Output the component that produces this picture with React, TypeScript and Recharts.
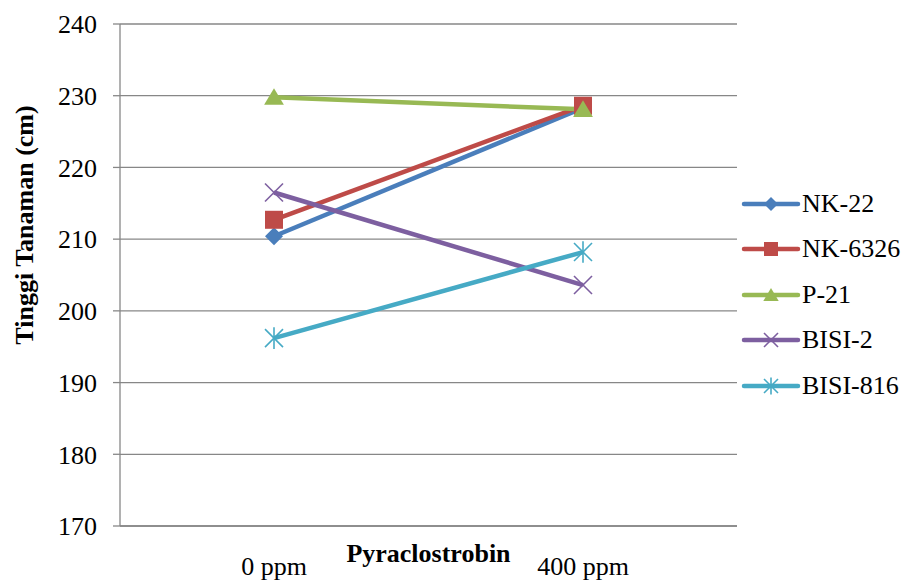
import React from "react";
import { LineChart, Line, XAxis, YAxis, CartesianGrid, Label } from "recharts";

const doses = ["0 ppm", "400 ppm"];
const nk22 = [210.4, 228.3];
const nk6326 = [212.7, 228.6];
const p21 = [229.8, 228.1];
const bisi2 = [216.5, 203.6];
const bisi816 = [196.2, 208.2];
const yTicks = [170, 180, 190, 200, 210, 220, 230, 240];

const series = [
  { key: "NK-22", values: nk22, color: "#4A7EBB", shape: "diamond" },
  { key: "NK-6326", values: nk6326, color: "#BE4B48", shape: "square" },
  { key: "P-21", values: p21, color: "#98B954", shape: "triangle" },
  { key: "BISI-2", values: bisi2, color: "#7D5FA0", shape: "x" },
  { key: "BISI-816", values: bisi816, color: "#46AAC5", shape: "star" },
];

const data = doses.map((d, i) => {
  const row: Record<string, string | number> = { dose: d };
  series.forEach((s) => {
    row[s.key] = s.values[i];
  });
  return row;
});

const FONT = "'Liberation Serif', 'Times New Roman', serif";
const FS = 26;

function Marker({ cx, cy, shape, color, r }: { cx: number; cy: number; shape: string; color: string; r: number }) {
  if (shape === "diamond") {
    return <polygon points={`${cx},${cy - r} ${cx + r},${cy} ${cx},${cy + r} ${cx - r},${cy}`} fill={color} />;
  }
  if (shape === "square") {
    return <rect x={cx - r} y={cy - r} width={r * 2} height={r * 2} fill={color} />;
  }
  if (shape === "triangle") {
    return <polygon points={`${cx},${cy - r} ${cx + r * 1.1},${cy + r * 0.85} ${cx - r * 1.1},${cy + r * 0.85}`} fill={color} />;
  }
  if (shape === "x") {
    return (
      <g stroke={color} strokeWidth={1.6}>
        <line x1={cx - r} y1={cy - r} x2={cx + r} y2={cy + r} />
        <line x1={cx - r} y1={cy + r} x2={cx + r} y2={cy - r} />
      </g>
    );
  }
  return (
    <g stroke={color} strokeWidth={1.6}>
      <line x1={cx - r} y1={cy - r} x2={cx + r} y2={cy + r} />
      <line x1={cx - r} y1={cy + r} x2={cx + r} y2={cy - r} />
      <line x1={cx} y1={cy - r * 1.2} x2={cx} y2={cy + r * 1.2} />
    </g>
  );
}

const XTick = (props: any) => {
  const { x, payload } = props;
  return (
    <text x={x} y={575} textAnchor="middle" fontFamily={FONT} fontSize={FS} fill="#000">
      {payload.value}
    </text>
  );
};

const YTitle = () => (
  <text
    x={0}
    y={0}
    transform="translate(33, 225) rotate(-90)"
    textAnchor="middle"
    fontFamily={FONT}
    fontSize={FS}
    fontWeight="bold"
    fill="#000"
  >
    Tinggi Tanaman (cm)
  </text>
);

export default function App() {
  return (
    <div style={{ position: "absolute", left: 0, top: 0, width: 904, height: 581, background: "#fff" }}>
      <LineChart width={904} height={581} data={data} margin={{ top: 24, right: 167, bottom: 0, left: 0 }}>
        <CartesianGrid vertical={false} stroke="#878787" strokeWidth={1.3} />
        <XAxis
          dataKey="dose"
          padding={{ left: 154, right: 154 }}
          height={55}
          tickLine={false}
          stroke="#878787"
          strokeWidth={1.3}
          tick={<XTick />}
          interval={0}
        >
          <Label
            value="Pyraclostrobin"
            position="insideBottom"
            offset={19}
            style={{ fontFamily: FONT, fontSize: FS, fontWeight: "bold", fill: "#000" }}
          />
        </XAxis>
        <YAxis
          domain={[170, 240]}
          ticks={yTicks}
          width={120}
          tickSize={7}
          tickMargin={16}
          stroke="#878787"
          strokeWidth={1.3}
          tick={{ fontFamily: FONT, fontSize: FS, fill: "#000" }}
        >
          <Label content={<YTitle />} />
        </YAxis>
        {series.map((s) => (
          <Line
            key={s.key}
            dataKey={s.key}
            stroke={s.color}
            strokeWidth={4.5}
            isAnimationActive={false}
            dot={(p: any) => (
              <Marker key={`${s.key}-${p.index}`} cx={p.cx} cy={p.cy} shape={s.shape} color={s.color} r={9} />
            )}
            activeDot={false}
          />
        ))}
      </LineChart>
      <div style={{ position: "absolute", left: 741, top: 181, fontFamily: FONT, fontSize: FS }}>
        {series.map((s) => (
          <div key={s.key} style={{ display: "flex", alignItems: "center", height: 45.5 }}>
            <svg width={60} height={24}>
              <line x1={3} y1={12} x2={57} y2={12} stroke={s.color} strokeWidth={4.5} strokeLinecap="round" />
              <Marker cx={30} cy={12} shape={s.shape} color={s.color} r={7} />
            </svg>
            <span style={{ marginLeft: 1, color: "#000" }}>{s.key}</span>
          </div>
        ))}
      </div>
    </div>
  );
}
